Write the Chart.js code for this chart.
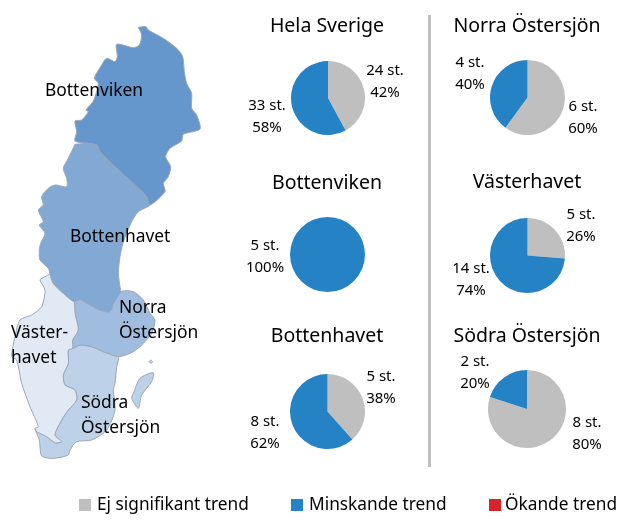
<!DOCTYPE html>
<html><head><meta charset="utf-8">
<script src="https://cdn.jsdelivr.net/npm/chart.js@4"></script>
<style>
html,body{margin:0;padding:0;background:#fff;width:627px;height:526px;overflow:hidden}
body{position:relative;font-family:"Noto Sans","Open Sans",sans-serif;color:#000}
canvas{position:absolute}
.t{position:absolute;white-space:nowrap;line-height:1;transform:translate(-50%,-50%)}
.l{position:absolute;white-space:nowrap;line-height:1;transform:translateY(-50%)}
.title{font-size:19.5px}.val{font-size:15px}.map{font-size:17.4px}.leg{font-size:17.3px}
.sq{position:absolute;width:12px;height:12px}
#sep{position:absolute;left:428px;top:15px;width:3px;height:452px;background:#BFBFBF}
</style></head><body>
<canvas id="map" width="627" height="526" style="left:0;top:0;width:627px;height:526px"></canvas>
<div id="sep"></div>
<script>
// ---- data ----
const trendNames = ["Ej signifikant trend","Minskande trend","Ökande trend"];
const trendColors = ["#BFBFBF","#2582C5","#D7242C"];
const areaNames = ["Hela Sverige","Bottenviken","Bottenhavet","Norra Östersjön","Västerhavet","Södra Östersjön"];
const ejSignifikant = [24,0,5,6,5,8];
const minskande = [33,5,8,4,14,2];
const okande = [0,0,0,0,0,0];
const ejProcent = [42,0,38,60,26,80];
const minskandeProcent = [58,100,62,40,74,20];

// map outlines, in map units (3 units per picture pixel)
const bottenviken = [415,82,438,80,445,90,490,115,530,145,548,170,553,215,560,250,575,280,575,325,590,345,600,387,550,403,545,423,510,445,497,470,512,500,505,530,490,550,495,575,450,615,440,590,400,550,350,505,300,455,290,435,265,430,225,423,230,395,225,363,245,360,265,335,258,330,280,303,295,250,283,235,305,195,320,175,345,185,352,170,350,133,400,143,418,135,425,105];
const bottenhavet = [225,433,265,430,290,435,300,455,350,505,400,550,440,590,450,615,415,635,395,665,370,725,360,770,355,820,360,860,362,875,340,910,330,935,300,930,270,915,240,898,222,905,190,880,160,850,150,822,145,805,120,780,118,750,122,730,135,700,118,675,130,665,115,630,130,615,125,590,145,565,165,555,200,560,200,535,190,505,205,475];
const vasterhavet = [150,822,160,850,190,880,222,905,225,940,235,990,218,1020,218,1045,205,1050,205,1090,190,1125,195,1155,225,1170,230,1200,205,1230,185,1260,165,1305,185,1325,165,1328,140,1310,110,1295,105,1285,115,1280,90,1220,65,1150,50,1080,35,1070,45,1010,60,960,95,945,125,920,135,870,120,840,135,830];
const norraOstersjon = [222,905,240,898,270,915,300,930,330,935,340,910,362,875,400,875,430,900,450,940,465,960,455,1000,420,1040,390,1060,355,1070,310,1055,275,1040,240,1035,218,1045,218,1020,235,990,225,940];
const sodraOstersjon = [218,1045,240,1035,275,1040,310,1055,355,1070,350,1100,345,1150,340,1170,345,1230,320,1290,275,1320,230,1325,210,1350,205,1365,160,1375,125,1368,118,1320,105,1285,140,1310,165,1328,185,1325,165,1305,185,1260,205,1230,230,1200,225,1170,195,1155,190,1125,205,1090,205,1050];
const gotland = [400,1180,420,1135,460,1118,455,1145,425,1185,415,1225,395,1195];
const faro = [447,1085,452,1080,458,1085,452,1090];

// ---- layout ----
const pieLayout = [[327.5,97.5,37],[327,254.5,37.5],[327,411,37.5],[527,97,37.5],[527,255.5,37.5],[527,409,39]];
const titleLayout = [[327,25],[327,182],[327,335],[527,25],[527,181],[527,335]];
// [x,y] of the grey label and of the blue label
const labelLayout = [[[385,70],[267,105]],[null,[265,245]],[[381,376],[265,421]],[[583,106],[470,62]],[[581,214],[471,268]],[[587,422],[475,361]]];
const mapLabels = [["Bottenviken",45,90],["Bottenhavet",70,236],["Norra",119,307],["Östersjön",119,332],["Väster-",11,332],["havet",11,357],["Södra",81,402],["Östersjön",81,427]];
const legendLayout = [[79,97],[291,309],[489,505]];

function pts(a){const r=[];for(let i=0;i<a.length;i+=2)r.push({x:a[i],y:a[i+1]});r.push({x:a[0],y:a[1]});return r;}
function region(name,a,color){return {label:name,data:pts(a),showLine:true,fill:'shape',backgroundColor:color,borderColor:'#9AA6B6',borderWidth:1,pointRadius:0,tension:0.25};}
function addText(cls,txt,x,y){const d=document.createElement('div');d.className=cls;d.textContent=txt;d.style.left=x+'px';d.style.top=y+'px';document.body.appendChild(d);}

new Chart(document.getElementById('map'),{type:'scatter',data:{datasets:[
  region('Bottenviken',bottenviken,'#6597CC'),
  region('Bottenhavet',bottenhavet,'#82A8D4'),
  region('Västerhavet',vasterhavet,'#E0E9F4'),
  region('Norra Östersjön',norraOstersjon,'#A0BCDE'),
  region('Södra Östersjön',sodraOstersjon,'#BDD1E9'),
  region('Gotland',gotland,'#BDD1E9'),
  region('Fårö',faro,'#BDD1E9')
]},options:{responsive:false,animation:false,layout:{padding:0},
  plugins:{legend:{display:false},tooltip:{enabled:false},title:{display:false}},
  scales:{x:{type:'linear',min:0,max:1881,display:false},y:{type:'linear',min:0,max:1578,reverse:true,display:false}}}});

areaNames.forEach((name,i)=>{
  const [cx,cy,r]=pieLayout[i];
  const c=document.createElement('canvas');const s=Math.ceil(r*2+4);
  c.width=s;c.height=s;c.style.cssText=`left:${cx-s/2}px;top:${cy-s/2}px;width:${s}px;height:${s}px`;
  document.body.appendChild(c);
  new Chart(c,{type:'pie',data:{labels:trendNames,datasets:[{data:[ejSignifikant[i],minskande[i],okande[i]],backgroundColor:trendColors,borderWidth:0,radius:r}]},
    options:{responsive:false,animation:false,layout:{padding:0},plugins:{legend:{display:false},tooltip:{enabled:false}}}});
  addText('t title',name,titleLayout[i][0],titleLayout[i][1]);
  const [g,b]=labelLayout[i];
  if(g){addText('t val',ejSignifikant[i]+' st.',g[0],g[1]-1);addText('t val',ejProcent[i]+'%',g[0],g[1]+21);}
  if(b){addText('t val',minskande[i]+' st.',b[0],b[1]-1);addText('t val',minskandeProcent[i]+'%',b[0],b[1]+21);}
});
mapLabels.forEach(m=>addText('l map',m[0],m[1],m[2]));
trendNames.forEach((n,i)=>{
  const q=document.createElement('div');q.className='sq';q.style.left=legendLayout[i][0]+'px';q.style.top='499px';q.style.background=trendColors[i];document.body.appendChild(q);
  addText('l leg',n,legendLayout[i][1],504);
});
</script></body></html>
